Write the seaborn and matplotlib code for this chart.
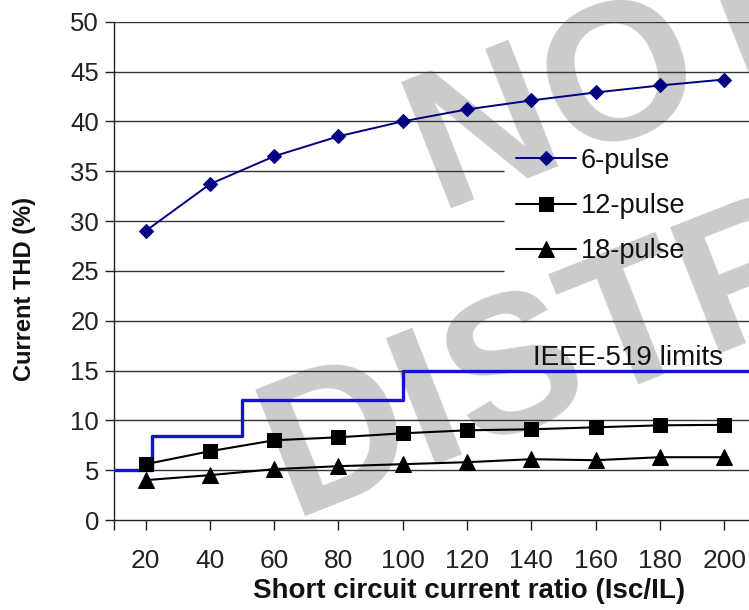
import numpy as np
import pandas as pd
import matplotlib
matplotlib.use("Agg")
import matplotlib.pyplot as plt
import seaborn as sns

# ---------------- data ----------------
ratio = [20, 40, 60, 80, 100, 120, 140, 160, 180, 200]
thd_6pulse = [29.0, 33.7, 36.5, 38.5, 40.0, 41.2, 42.1, 42.9, 43.6, 44.2]
thd_12pulse = [5.6, 6.9, 8.0, 8.3, 8.7, 9.0, 9.1, 9.3, 9.5, 9.55]
thd_18pulse = [4.0, 4.5, 5.1, 5.4, 5.6, 5.8, 6.1, 6.0, 6.3, 6.3]
ieee_x = [10, 22, 50, 100, 210]
ieee_y = [5, 8.4, 12, 15, 15]
series_labels = ["6-pulse", "12-pulse", "18-pulse"]
ieee_label = "IEEE-519 limits"
x_ticks = [10, 20, 40, 60, 80, 100, 120, 140, 160, 180, 200]
x_tick_labels = ["", "20", "40", "60", "80", "100", "120", "140", "160", "180", "200"]
y_ticks = [0, 5, 10, 15, 20, 25, 30, 35, 40, 45, 50]
x_label = "Short circuit current ratio (Isc/IL)"
y_label = "Current THD (%)"
watermark = ["NOT FOR", "DISTRIBUTION"]

df = pd.DataFrame({
    "ratio": ratio * 3,
    "thd": thd_6pulse + thd_12pulse + thd_18pulse,
    "series": [series_labels[0]] * 10 + [series_labels[1]] * 10 + [series_labels[2]] * 10,
})
df_ieee = pd.DataFrame({"ratio": ieee_x, "thd": ieee_y})

# ---------------- style ----------------
sns.set_theme(style="white")
plt.rcParams["font.family"] = ["Liberation Sans", "DejaVu Sans"]

W, H = 749, 610
fig = plt.figure(figsize=(W / 100, H / 100), dpi=100)
ax = fig.add_axes([113.5 / W, 1 - 520 / H, 642.8 / W, 498.3 / H])
ax.set_facecolor("white")

# watermark (behind everything in the axes)
wm_kw = dict(transform=fig.transFigure, fontsize=141, fontweight="bold",
             color="#cbcbcb", rotation=21.5, rotation_mode="anchor",
             ha="center", va="baseline", zorder=0.5, clip_on=False)
ax.text(849 / W, 1 - 52 / H, watermark[0], **wm_kw)
ax.text(940 / W, 1 - 261 / H, watermark[1], **wm_kw)

# gridlines (the legend area is kept blank)
legend_left = 131.5
for yv in y_ticks[1:]:
    xend = legend_left if 25 <= yv <= 35 else 210
    ax.hlines(yv, 10, xend, color="#333333", lw=1.0, zorder=1)

# data lines
sns.lineplot(data=df_ieee, x="ratio", y="thd", ax=ax, color="#1414c8", lw=2.4,
             drawstyle="steps-post", zorder=3, legend=False)
styles = {
    series_labels[0]: dict(color="#000080", marker="D", ms=7.5, lw=1.4),
    series_labels[1]: dict(color="black", marker="s", ms=10.5, lw=1.5),
    series_labels[2]: dict(color="black", marker="^", ms=11, lw=1.5),
}
for name in series_labels:
    st = styles[name]
    sns.lineplot(data=df[df["series"] == name], x="ratio", y="thd", ax=ax,
                 color=st["color"], marker=st["marker"], markersize=st["ms"],
                 markeredgecolor=st["color"], lw=st["lw"], label=name, zorder=4)

# axes setup
ax.set_xlim(10, 210)
ax.set_ylim(0, 50)
ax.set_xticks(x_ticks)
ax.set_xticklabels(x_tick_labels)
ax.set_yticks(y_ticks)
ax.tick_params(axis="x", direction="out", length=7, width=1, pad=14,
               labelsize=19, colors="#222222", bottom=True)
ax.tick_params(axis="y", direction="out", length=6.5, width=1, pad=4,
               labelsize=18.5, colors="#222222", left=True)
for s in ["top", "right"]:
    ax.spines[s].set_visible(False)
for s in ["left", "bottom"]:
    ax.spines[s].set_color("#222222")
    ax.spines[s].set_linewidth(1.0)
    ax.spines[s].set_zorder(2)

ax.set_xlabel(x_label, fontsize=20, fontweight="bold", color="#111111")
ax.set_ylabel(y_label, fontsize=17, fontweight="bold", color="#111111")
ax.xaxis.set_label_coords(0.553, -0.1164)
ax.yaxis.set_label_coords(-0.121, 0.4636)

ax.text(140.5, 15.55, ieee_label, fontsize=20, color="#111111",
        ha="left", va="baseline", zorder=5)

handles, labels = ax.get_legend_handles_labels()
leg = ax.legend(handles, labels, loc="center left",
                bbox_to_anchor=(516 / W, 1 - 206 / H), bbox_transform=fig.transFigure,
                frameon=False, fontsize=19.5, borderpad=0, borderaxespad=0,
                handlelength=2.2, handletextpad=0.2, labelspacing=0.72)
leg.set_zorder(6)
for t in leg.get_texts():
    t.set_color("#111111")

fig.savefig("out.png", dpi=100)
